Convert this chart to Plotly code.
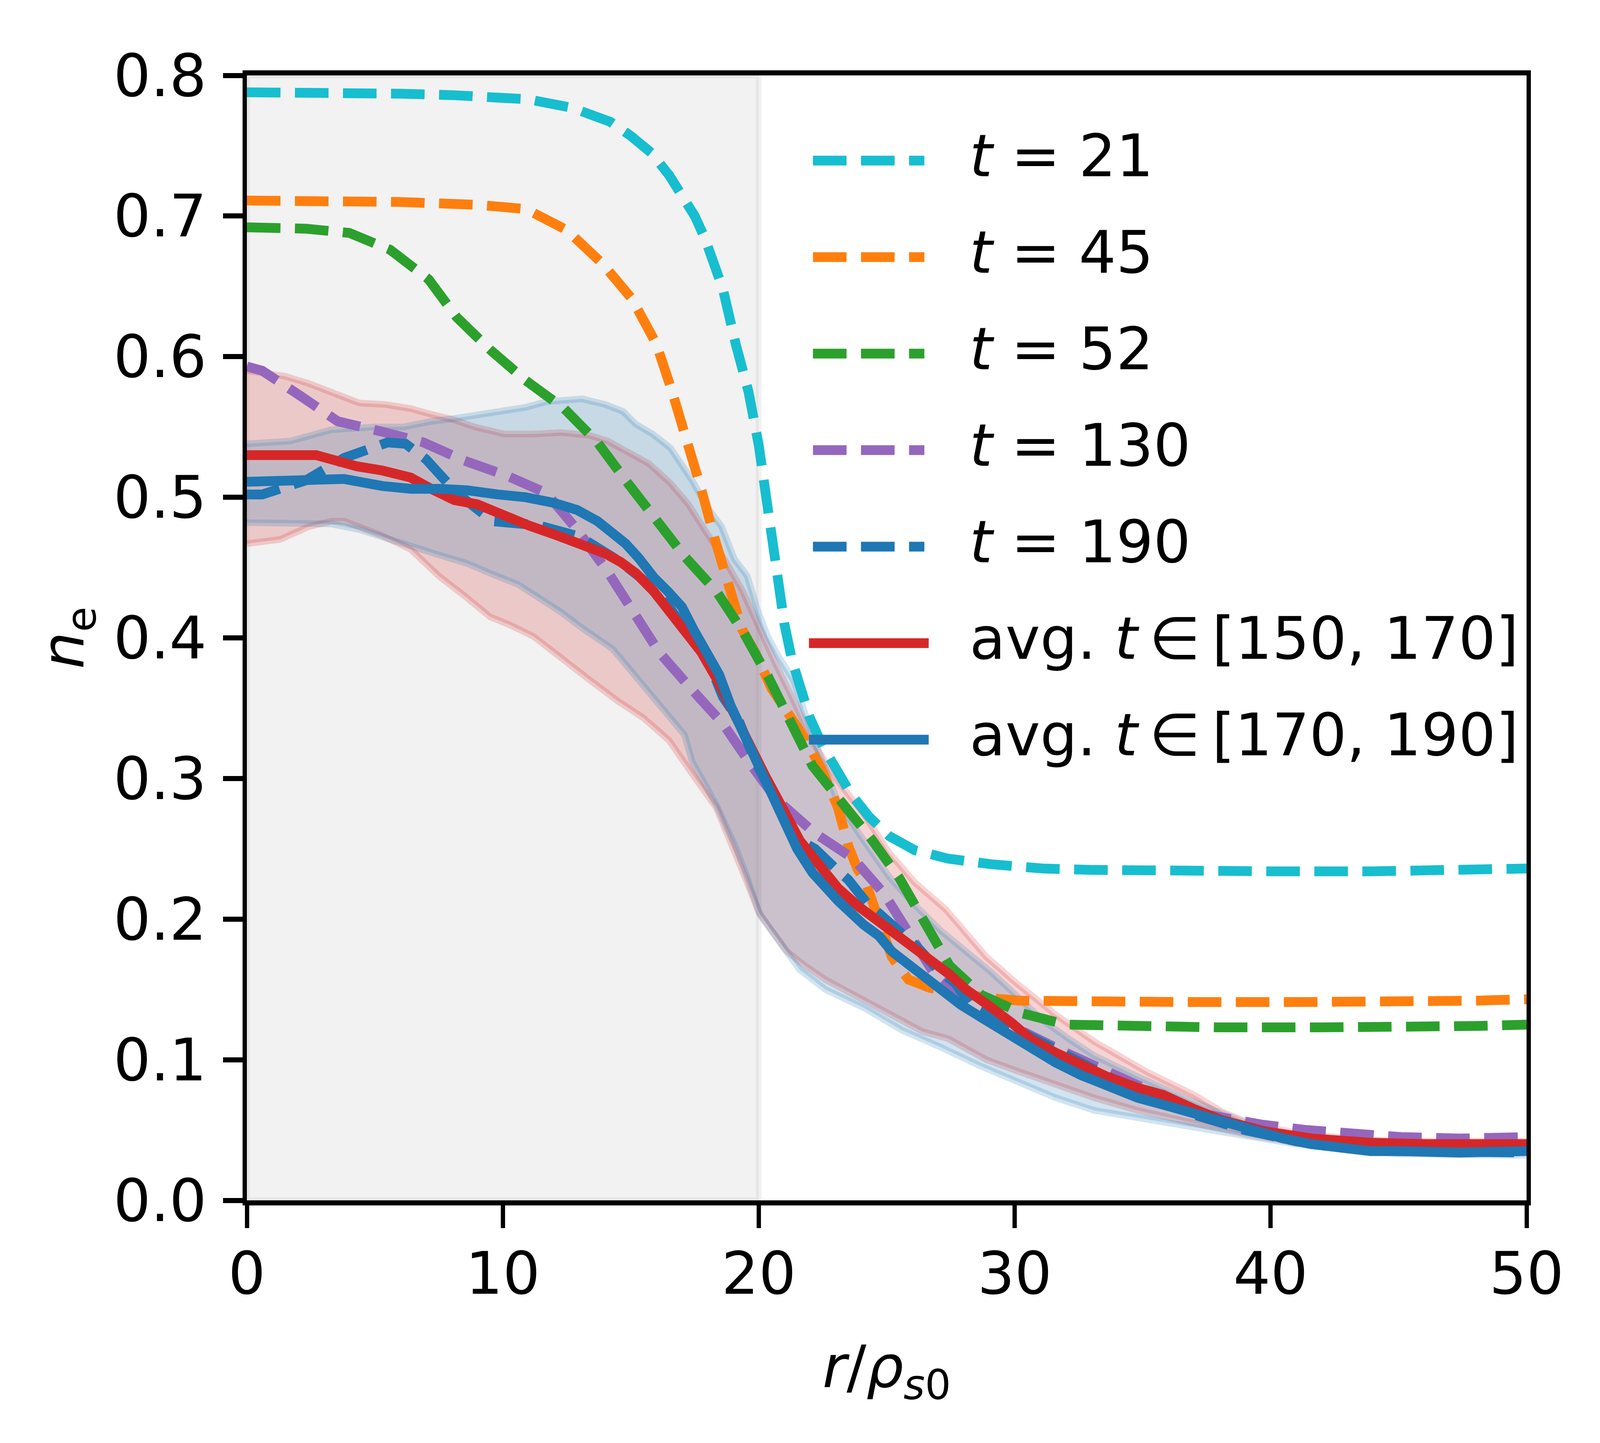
import plotly.graph_objects as go

# ---- data (r / rho_s0 , n_e) ----
r_t21 = [0, 2, 4, 6, 8, 10, 11, 12.7, 14.2, 15.0, 15.8, 16.5, 17.0, 17.5, 17.9, 18.6, 19.1, 19.6, 20.0,
         20.25, 20.5, 20.8, 21.0, 21.3, 21.6, 22.0, 22.5, 23.1, 23.6, 24.3, 25.1, 26.1, 27.4, 29.1, 31.1,
         33, 36, 40, 44, 47, 50]
n_t21 = [.788, .788, .788, .787, .786, .784, .783, .777, .767, .757, .745, .729, .716, .700, .684, .648,
         .609, .575, .537, .505, .470, .432, .410, .384, .364, .343, .323, .303, .289, .273, .259, .249,
         .243, .239, .236, .235, .234, .234, .234, .235, .236]

r_t45 = [0, 3, 6, 9, 10.9, 12.5, 13.9, 15.05, 16.0, 16.6, 17.2, 17.75, 18.27, 18.85, 19.35, 19.85, 20.5,
         21.2, 21.85, 22.5, 23.1, 23.5, 23.85, 24.2, 24.7, 25.2, 25.85, 26.7, 27.7, 28.9, 30.2, 33, 37, 41,
         45, 48, 50]
n_t45 = [.711, .711, .710, .708, .705, .690, .666, .641, .609, .576, .541, .506, .471, .437, .406, .390,
         .364, .345, .327, .305, .279, .252, .236, .225, .199, .173, .157, .151, .148, .144, .142, .141,
         .141, .141, .141, .142, .143]

r_t52 = [0, 2.3, 4.0, 5.6, 7.1, 8.2, 9.5, 10.9, 12.4, 13.7, 14.8, 16.0, 17.1, 18.35, 19.4, 20.35, 21.25,
         22.1, 23.2, 24.4, 25.5, 26.5, 27.45, 28.7, 30.3, 32, 34, 38, 42, 46, 48, 50]
n_t52 = [.692, .691, .688, .676, .655, .628, .605, .583, .563, .539, .512, .484, .458, .433, .404, .373,
         .341, .309, .284, .257, .229, .197, .167, .146, .133, .125, .124, .123, .123, .123, .124, .125]

r_t130 = [0, 0.6, 2.1, 3.55, 5.2, 6.9, 8.5, 10.2, 11.7, 12.9, 14.1, 15.1, 16.1, 17.35, 18.6, 19.65, 20.7,
          22.2, 23.7, 24.9, 25.9, 26.9, 28, 30, 32, 34, 36, 37.5, 39.6, 41.4, 43.1, 45.1, 47.4, 50]
n_t130 = [.593, .590, .572, .554, .547, .539, .526, .515, .503, .477, .447, .419, .390, .364, .339, .311,
          .285, .261, .243, .218, .188, .160, .143, .123, .105, .088, .072, .061, .054, .050, .047, .045,
          .044, .045]

r_t190 = [0, 0.6, 2.3, 3.8, 5.5, 6.2, 7.0, 8.2, 9.6, 11.4, 13.0, 14.6, 16.0, 17.2, 18.0, 18.6, 19.2, 19.85,
          20.5, 21.1, 21.7, 22.2, 23.0, 23.5, 24.2, 24.7, 25.45, 26.2, 26.95, 27.7, 28.3, 29.2, 29.9, 31.4,
          33, 35, 37, 39, 41, 43, 45, 47.5, 50]
n_t190 = [.502, .502, .512, .528, .539, .538, .527, .503, .483, .480, .472, .454, .434, .404, .385, .358,
          .342, .313, .289, .268, .255, .250, .236, .228, .212, .204, .191, .180, .165, .154, .138, .130,
          .122, .109, .094, .076, .061, .050, .042, .037, .035, .034, .034]

r_avg1 = [0, 2.7, 3.3, 4.3, 5.3, 6.4, 7.2, 8.1, 9.0, 9.9, 11.0, 12.1, 13.2, 14.0, 14.6, 15.2, 15.9, 16.45,
          17.1, 17.75, 18.35, 18.95, 19.6, 20.25, 20.9, 21.6, 22.3, 23.1, 23.9, 24.7, 25.3, 26.1, 26.9,
          27.5, 28.1, 28.6, 29.1, 29.9, 30.6, 31.6, 32.6, 33.6, 34.8, 35.8, 37, 38.1, 39.8, 41.6, 43.9,
          46.1, 50]
n_avg1 = [.530, .530, .527, .522, .519, .514, .506, .498, .495, .488, .480, .473, .466, .460, .454, .446,
          .433, .421, .406, .390, .371, .348, .325, .302, .280, .256, .240, .222, .209, .198, .190, .179,
          .169, .160, .150, .144, .137, .126, .115, .105, .096, .088, .080, .075, .065, .057, .049, .044,
          .041, .040, .040]

r_avg1_up = [0, 1.5, 2.4, 3.3, 4.4, 5.4, 6.4, 7.2, 8.1, 8.9, 10.05, 11.2, 12.3, 13.4, 14.1, 14.8, 15.7,
             16.55, 17.25, 17.95, 18.65, 19.35, 19.95, 20.65, 21.3, 22.1, 23.1, 24.1, 25.1, 26.1, 27.3,
             28.1, 28.9, 30.1, 31.6, 33.1, 34.6, 35.2, 37, 38.1, 39.3, 41, 43, 45, 47, 50]
n_avg1_up = [.590, .586, .581, .575, .567, .566, .563, .559, .555, .550, .545, .545, .546, .544, .540,
             .533, .524, .510, .495, .475, .456, .434, .409, .382, .358, .326, .298, .275, .247, .226,
             .207, .190, .173, .154, .132, .113, .098, .091, .075, .063, .054, .048, .044, .042, .042, .042]
r_avg1_lo = [0, 1.3, 2.4, 3.3, 3.8, 5.25, 6.4, 7.5, 8.5, 9.5, 10.3, 11.2, 12.3, 13.4, 14.5, 15.5, 16.5,
             17.45, 18.35, 18.95, 19.55, 20.0, 20.5, 21.1, 21.8, 22.6, 24.1, 25.2, 26.4, 27.4, 28.9, 30.1,
             31.6, 33.1, 34.8, 37, 39.3, 41, 44, 47, 50]
n_avg1_lo = [.467, .470, .479, .483, .483, .473, .463, .444, .430, .415, .409, .401, .386, .370, .355,
             .343, .327, .302, .279, .252, .226, .205, .192, .177, .167, .157, .143, .132, .120, .115,
             .100, .092, .082, .073, .064, .055, .046, .041, .038, .037, .037]

r_avg2 = [0, 1.7, 3.1, 3.8, 5.3, 6.4, 7.5, 8.6, 9.8, 10.9, 12.0, 12.9, 13.7, 14.3, 14.8, 15.3, 15.9, 16.45,
          17.0, 17.45, 18.05, 18.45, 18.9, 19.35, 19.9, 20.4, 20.9, 21.5, 22.1, 22.6, 23.1, 24.1, 24.7,
          25.2, 25.9, 26.5, 27.3, 27.9, 28.7, 29.6, 30.6, 31.6, 32.6, 33.6, 34.8, 35.8, 37, 38.1, 39.3,
          40.5, 41.6, 42.8, 43.9, 45.1, 47.4, 50]
n_avg2 = [.511, .512, .514, .513, .508, .506, .506, .505, .502, .500, .496, .491, .483, .475, .467, .457,
          .443, .433, .422, .406, .387, .374, .352, .334, .310, .292, .272, .250, .233, .222, .213, .196,
          .188, .177, .167, .158, .147, .139, .130, .120, .109, .098, .089, .081, .073, .068, .062, .055,
          .049, .044, .040, .037, .035, .035, .034, .035]

r_avg2_up = [0, 1.7, 3.3, 5.0, 6.1, 7.2, 8.1, 9.5, 10.9, 11.7, 12.6, 13.1, 14.0, 14.7, 15.2, 15.85, 16.55,
             16.95, 17.4, 17.95, 18.55, 19.05, 19.55, 19.95, 20.35, 20.8, 21.35, 22.2, 23.1, 24.1, 25.1,
             26.1, 27.1, 28.1, 29.1, 30.1, 31.1, 32.1, 33.1, 34.8, 37, 39.3, 41, 43, 45, 47, 50]
n_avg2_up = [.538, .540, .548, .550, .550, .554, .556, .560, .564, .568, .570, .570, .566, .561, .552,
             .545, .535, .525, .512, .494, .479, .456, .444, .420, .401, .386, .370, .326, .283, .256,
             .230, .210, .192, .177, .162, .145, .128, .115, .103, .088, .070, .053, .046, .041, .038,
             .037, .038]
r_avg2_lo = [0, 1.7, 3.3, 4.4, 5.5, 6.4, 7.5, 8.6, 9.5, 10.6, 11.45, 12.3, 13.1, 14.3, 15.1, 15.85, 16.55,
             17.1, 17.4, 18.35, 19.1, 19.5, 20.05, 20.6, 21.6, 22.6, 24.1, 25.6, 27.1, 28.6, 30.1, 31.6,
             33.1, 34.8, 37, 39.3, 41, 43, 45, 47, 50]
n_avg2_lo = [.482, .482, .481, .477, .471, .465, .459, .453, .446, .438, .428, .418, .407, .392, .376,
             .360, .343, .331, .312, .281, .251, .232, .203, .188, .164, .150, .137, .121, .109, .096,
             .084, .073, .064, .058, .052, .045, .040, .036, .033, .032, .032]

legend_labels = ["<i>t</i> = 21", "<i>t</i> = 45", "<i>t</i> = 52", "<i>t</i> = 130", "<i>t</i> = 190",
                 "avg. <i>t</i>\u2009\u2208\u2009[150, 170]", "avg. <i>t</i>\u2009\u2208\u2009[170, 190]"]

# ---- styling ----
# the browser viewport is 4096 px wide, so the 4797 px wide layout is squeezed horizontally
SX = 4096 / 4797
W, H = 4096, 3693
L, R, T, B = round(731 * SX), round(4568 * SX), 185, 3064   # plot area edges in px

FONT = "DejaVu Sans"
FS = 150
LW = 25
DASH = "86px,37px"
C_CYAN, C_ORANGE, C_GREEN = "#17becf", "#ff7f0e", "#2ca02c"
C_PURPLE, C_BLUE, C_RED = "#9467bd", "#1f77b4", "#d62728"


def px_x(px):
    # px given in reference (4797 wide) coordinates
    return (px * SX - L) / (R - L)


def px_y(py):
    return (B - py) / (B - T)


fig = go.Figure()


def add_band(r_up, n_up, r_lo, n_lo, rgb):
    fig.add_trace(go.Scatter(
        x=list(r_up) + list(r_lo)[::-1],
        y=list(n_up) + list(n_lo)[::-1],
        mode='lines', fill='toself',
        fillcolor=f'rgba({rgb},0.2)',
        line=dict(color=f'rgba({rgb},0.2)', width=17),
        hoverinfo='skip', showlegend=False))


add_band(r_avg1_up, n_avg1_up, r_avg1_lo, n_avg1_lo, "214,39,40")
add_band(r_avg2_up, n_avg2_up, r_avg2_lo, n_avg2_lo, "31,119,180")

series = [
    (r_t21, n_t21, C_CYAN, DASH),
    (r_t45, n_t45, C_ORANGE, DASH),
    (r_t52, n_t52, C_GREEN, DASH),
    (r_t130, n_t130, C_PURPLE, DASH),
    (r_t190, n_t190, C_BLUE, DASH),
    (r_avg1, n_avg1, C_RED, 'solid'),
    (r_avg2, n_avg2, C_BLUE, 'solid'),
]
for (rr, nn, col, dash), lab in zip(series, legend_labels):
    fig.add_trace(go.Scatter(x=rr, y=nn, mode='lines', name=lab,
                             line=dict(color=col, width=LW, dash=dash),
                             hoverinfo='skip', showlegend=False))

# shaded core region r < 20
fig.add_vrect(x0=0, x1=20, fillcolor='rgba(128,128,128,0.1)',
              line=dict(color='rgba(128,128,128,0.1)', width=15), layer='below')

# hand-made legend (matplotlib-like long handles, no frame)
LEG_Y0, LEG_DY = 403, 247
for i, ((rr, nn, col, dash), lab) in enumerate(zip(series, legend_labels)):
    yc = px_y(LEG_Y0 + i * LEG_DY)
    if dash == 'solid':
        x0, x1 = px_x(2416), px_x(2775)
    else:
        x0, x1 = px_x(2428), px_x(2762)
    fig.add_shape(type='line', xref='paper', yref='paper', x0=x0, x1=x1, y0=yc, y1=yc,
                  line=dict(color=col, width=LW, dash=dash))
    fig.add_annotation(xref='paper', yref='paper', x=px_x(2895), y=yc, yshift=12, text=lab,
                       showarrow=False, xanchor='left', yanchor='middle',
                       font=dict(family=FONT, size=FS, color='black'))

axis_common = dict(showline=True, linecolor='black', mirror=True, ticks='outside',
                   tickcolor='black', showgrid=False, zeroline=False,
                   tickfont=dict(family=FONT, size=FS, color='black'))

fig.update_layout(
    width=W, height=H, autosize=False,
    margin=dict(l=L, r=W - R, t=T, b=H - B),
    paper_bgcolor='white', plot_bgcolor='white',
    font=dict(family=FONT, size=FS, color='black'),
    showlegend=False,
    xaxis=dict(range=[0, 50], dtick=10, tick0=0, linewidth=13, ticklen=58, tickwidth=11,
               ticklabelstandoff=-12,
               title=dict(text="<i>r</i>/<i>\u03c1</i><sub><i>s</i>0</sub>",
                          font=dict(family=FONT, size=FS), standoff=105),
               **axis_common),
    yaxis=dict(range=[0, 0.8], dtick=0.1, tick0=0, tickformat='.1f', linewidth=11, ticklen=50,
               tickwidth=13, ticklabelstandoff=12,
               title=dict(text="<i>n</i><sub>e</sub>",
                          font=dict(family=FONT, size=FS), standoff=30),
               **axis_common),
)

fig.write_html("out.html")
